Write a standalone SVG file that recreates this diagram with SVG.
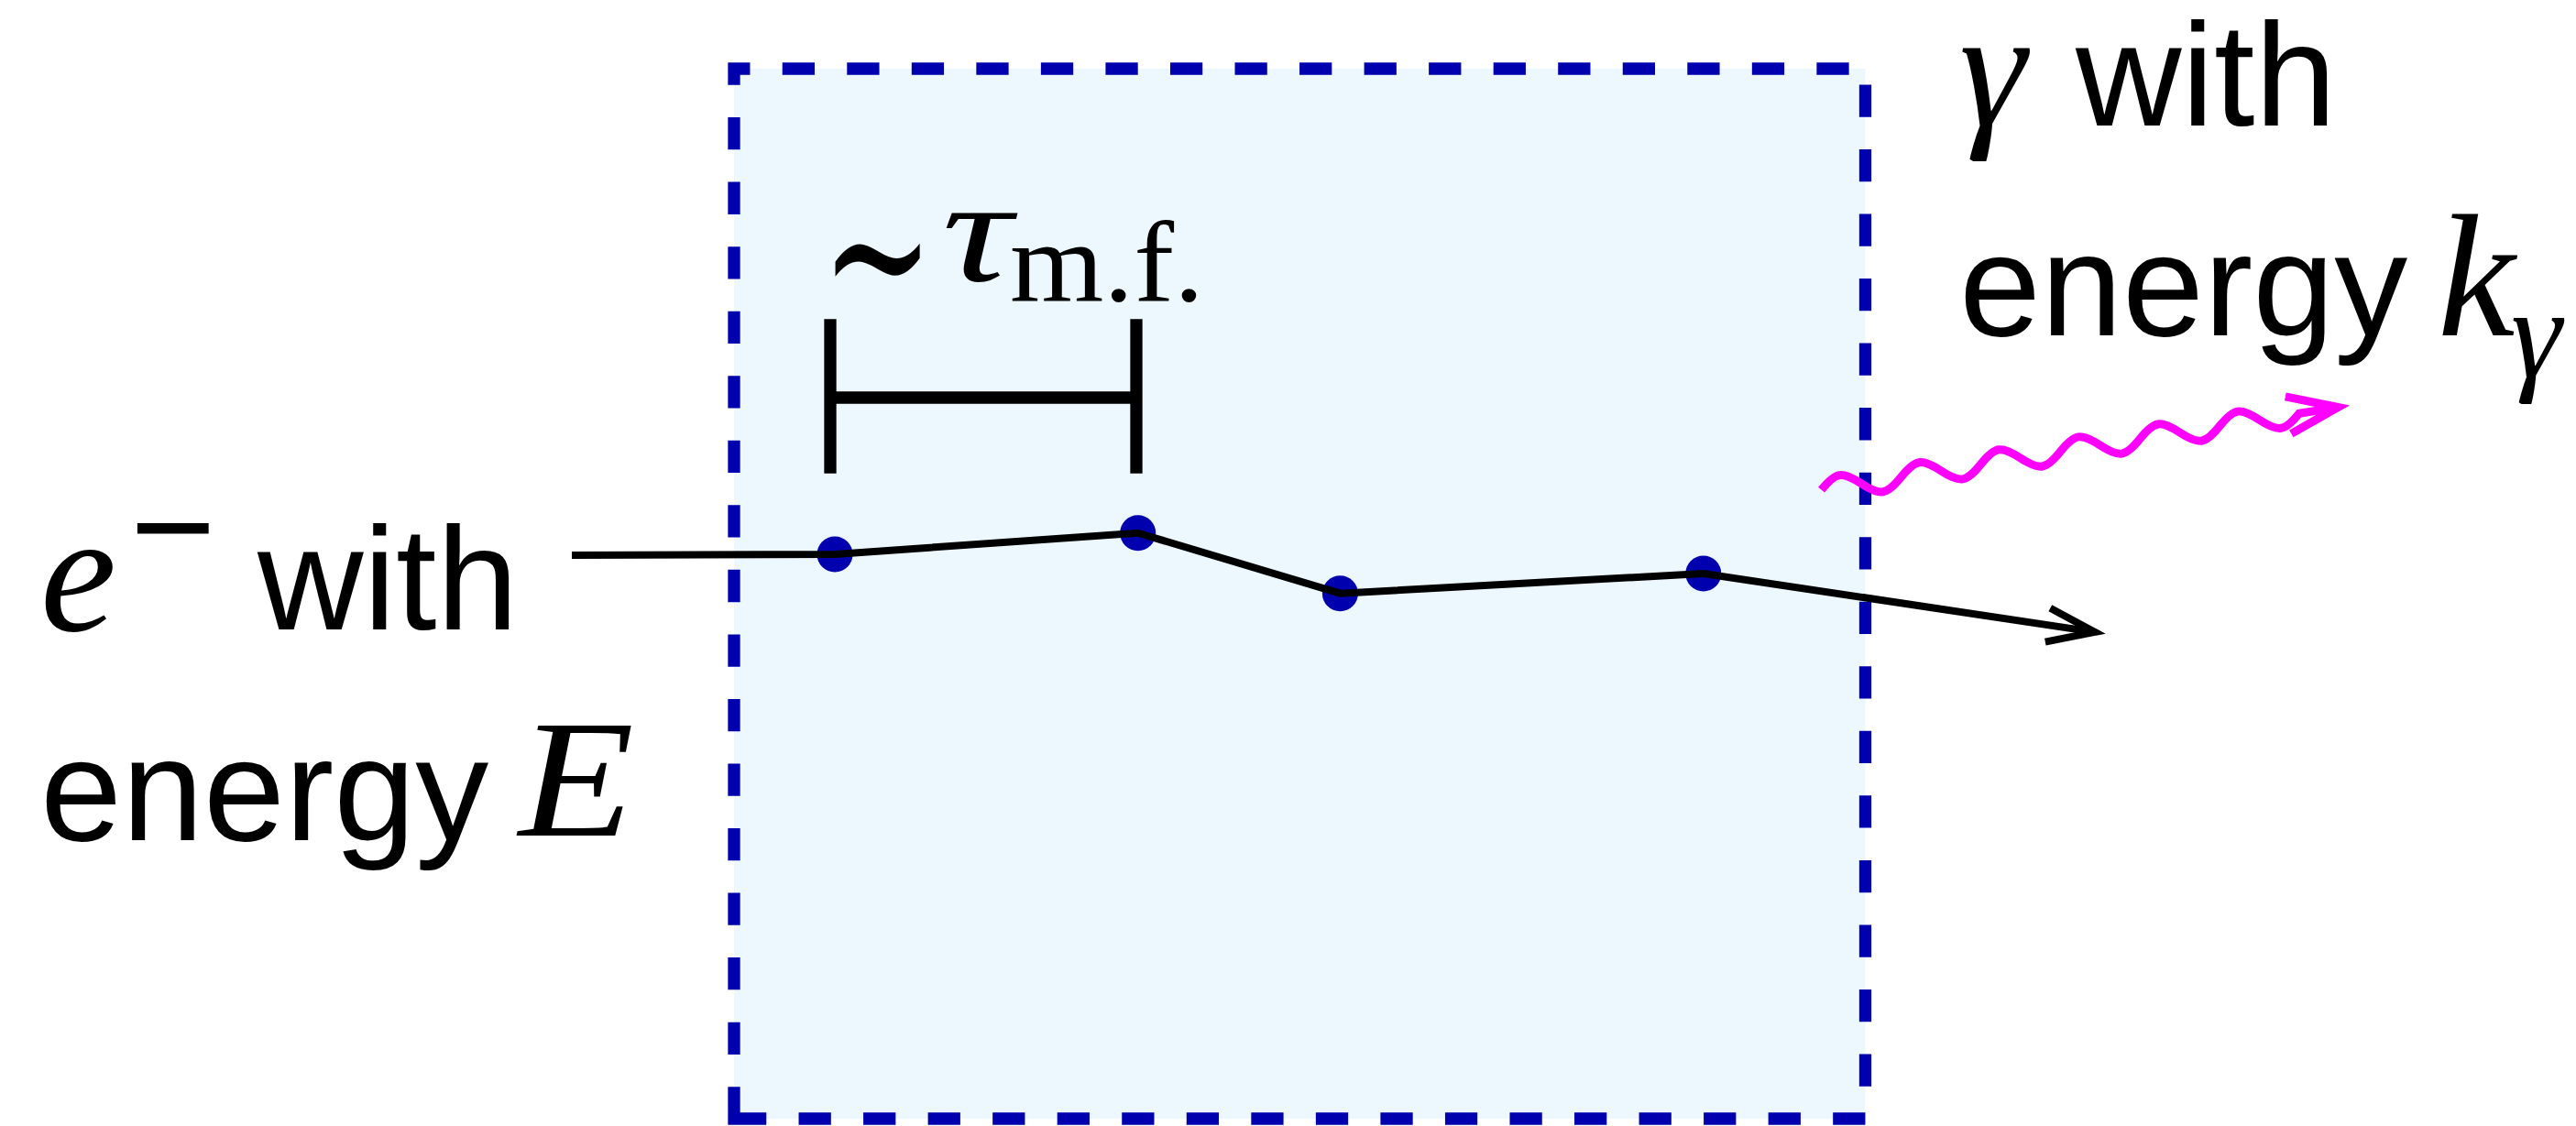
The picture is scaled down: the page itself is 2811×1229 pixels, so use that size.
<svg xmlns="http://www.w3.org/2000/svg" width="2811" height="1229" viewBox="0 0 2811 1229">
  <style>
    .sans { font-family: "Liberation Sans", Arial, sans-serif; font-size: 160px; fill: #000; }
    .mi { font-family: "Liberation Serif", "Times New Roman", serif; font-style: italic; fill: #000; }
    .rm { font-family: "Liberation Serif", "Times New Roman", serif; fill: #000; }
    .dot { fill: #0000AF; }
    .bar { stroke: #000; stroke-width: 13.3; fill: none; stroke-linecap: butt; }
  </style>
  <defs>
    <marker id="arrowBlack" markerUnits="userSpaceOnUse" orient="auto" refX="0" refY="0" markerWidth="1" markerHeight="1" overflow="visible">
      <path d="M -52 -18.6 L 0 0 L -52 18.6" fill="none" stroke="#000" stroke-width="8" stroke-linejoin="miter" stroke-miterlimit="10"/>
    </marker>
    <marker id="arrowMagenta" markerUnits="userSpaceOnUse" orient="auto" refX="0" refY="0" markerWidth="1" markerHeight="1" overflow="visible">
      <path d="M -55 -20.5 L 0 0 L -55 20.5" fill="none" stroke="#FF00FF" stroke-width="9" stroke-linejoin="miter" stroke-miterlimit="10"/>
    </marker>
  </defs>

  <rect width="2811" height="1229" fill="#FFFFFF"/>

  <g id="region">
    <rect x="801" y="75" width="1234.5" height="1146" fill="#EDF7FE"/>
    <path d="M 801 1221 H 2035.5 V 75 H 801 Z" fill="none" stroke="#0000AF" stroke-width="13.3" stroke-dasharray="35.27 35.27"/>
  </g>

  <g id="interval">
    <line class="bar" x1="906" y1="348.3" x2="906" y2="516.7"/>
    <line class="bar" x1="1240" y1="348.3" x2="1240" y2="516.7"/>
    <line class="bar" x1="906" y1="434" x2="1240" y2="434"/>
    <text x="0" y="0" font-size="140" style="font-family:'DejaVu Serif', serif" transform="translate(896 354) scale(1.05 1.6)">∼</text>
    <text class="mi" x="1028" y="306" font-size="160" textLength="76" lengthAdjust="spacingAndGlyphs">τ</text>
    <text class="rm" x="1102" y="328.3" font-size="124" textLength="212" lengthAdjust="spacingAndGlyphs">m.f.</text>
  </g>

  <g id="vertices">
    <circle class="dot" cx="911" cy="605" r="19.5"/>
    <circle class="dot" cx="1241.7" cy="581.7" r="19.5"/>
    <circle class="dot" cx="1462.4" cy="647.7" r="19.5"/>
    <circle class="dot" cx="1858.8" cy="626" r="19.5"/>
  </g>

  <g id="connectors">
    <polyline id="electron-track" points="624,606 911,605 1241.7,581.7 1462.4,647.7 1858.8,626 2286,689.9" fill="none" stroke="#000" stroke-width="8" stroke-linejoin="miter" marker-end="url(#arrowBlack)"/>
    <g id="photon" transform="translate(2031 527.7) rotate(-9.09)">
      <path d="M -44 0 c 18.67 -17 25.33 -17 44 0 s 25.33 17 44 0 s 25.33 -17 44 0 s 25.33 17 44 0 s 25.33 -17 44 0 s 25.33 17 44 0 s 25.33 -17 44 0 s 25.33 17 44 0 s 25.33 -17 44 0 s 25.33 17 44 0 s 25.33 -17 44 0 s 25.33 17 44 0 L 527 0" fill="none" stroke="#FF00FF" stroke-width="9" marker-end="url(#arrowMagenta)"/>
    </g>
  </g>

  <g id="electron-label">
    <text class="mi" x="44" y="688" font-size="187">e</text>
    <text class="sans" x="142" y="630" font-size="155">−</text>
    <text class="sans" x="281" y="686.7">with</text>
    <text class="sans" x="44" y="916.7">energy</text>
    <text class="mi" x="566" y="912" font-size="182" textLength="126" lengthAdjust="spacingAndGlyphs">E</text>
  </g>

  <g id="photon-label">
    <text class="mi" x="2138" y="136.7" font-size="185">γ</text>
    <text class="sans" x="2265" y="136.7">with</text>
    <text class="sans" x="2138" y="366">energy</text>
    <text class="mi" x="2660" y="366" font-size="190">k</text>
    <text class="mi" x="2740" y="411" font-size="140">γ</text>
  </g>
</svg>
